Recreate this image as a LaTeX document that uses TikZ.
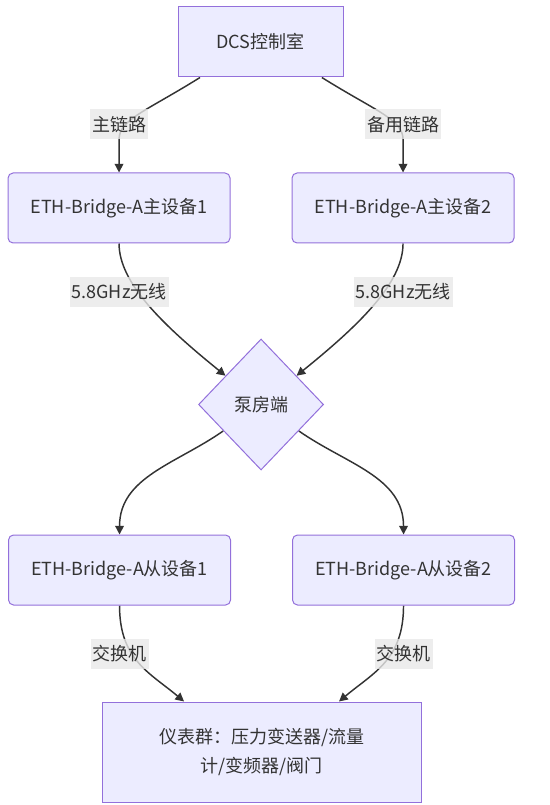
\documentclass[tikz,border=0pt]{standalone}
\usepackage{fontspec}
\setmainfont{Noto Sans CJK SC}
\usetikzlibrary{arrows.meta, positioning, calc, backgrounds, shapes.geometric}
\definecolor{nodefill}{HTML}{ECECFF}
\definecolor{nodeline}{HTML}{9370DB}
\definecolor{edgeline}{HTML}{333333}
\definecolor{labelfill}{HTML}{E8E8E8}
\definecolor{textgray}{HTML}{333333}

\begin{document}
\begin{tikzpicture}[
  node distance=71.25pt and 45.75pt,
  block/.style={
    rectangle, draw=nodeline, fill=nodefill, line width=0.75pt,
    minimum height=52.5pt, inner sep=0pt, align=center,
    text=textgray, font=\fontsize{13.5pt}{22pt}\selectfont
  },
  devblock/.style={block, rounded corners=3.75pt, minimum width=166.5pt},
  pumpnode/.style={block, diamond, minimum width=93.75pt, minimum height=98.25pt},
  arrow/.style={-{Triangle[length=6.5pt, width=6.5pt]}, line width=1.1pt, draw=edgeline},
  linklabel/.style={fill=labelfill, fill opacity=0.8, text opacity=1, text=textgray,
    font=\fontsize{13.5pt}{15pt}\selectfont, inner xsep=1.5pt, inner ysep=0pt,
    minimum height=22.5pt},
]
\useasboundingbox (-195.4pt,31.5pt) rectangle (216.4pt,-572.25pt);

% ---- control room and master devices ----
\node[block, minimum width=123.75pt] (dcs) at (0,0) {DCS控制室};
\node[devblock, below=of dcs, xshift=-106.125pt] (m1) {ETH-Bridge-A主设备1};
\node[devblock, right=of m1] (m2) {ETH-Bridge-A主设备2};

% ---- pump house ----
\coordinate (mtop) at ($(m1.south)!0.5!(m2.south)$);
\node[pumpnode, below=of mtop] (pump) {泵房端};

% ---- slave devices and instruments ----
\node[devblock, below=48pt of pump, xshift=-106.125pt] (s1) {ETH-Bridge-A从设备1};
\node[devblock, right=of s1] (s2) {ETH-Bridge-A从设备2};
\coordinate (stop) at ($(s1.south)!0.5!(s2.south)$);
\node[block, below=72pt of stop, minimum width=239.25pt, minimum height=75pt] (inst)
  {仪表群：压力变送器/流量\\计/变频器/阀门};

% Link labels
\node[linklabel, above=24.75pt of m1] (lmain) {主链路};
\node[linklabel, above=24.75pt of m2] (lbackup) {备用链路};
\node[linklabel, below=24.75pt of m1] (lwl1) {5.8GHz无线};
\node[linklabel, below=24.75pt of m2] (lwl2) {5.8GHz无线};
\node[linklabel, below=24.75pt of s1] (lsw1) {交换机};
\node[linklabel, below=24.75pt of s2] (lsw2) {交换机};

% Arrows (under the labels)
\begin{scope}[on background layer]
\draw[arrow] ([xshift=-45.4pt]dcs.south)
  to[out=-148, in=90, out looseness=1.6, in looseness=0.5] (lmain.south) -- (m1);
\draw[arrow] ([xshift=46pt]dcs.south)
  to[out=-32, in=90, out looseness=1.6, in looseness=0.5] (lbackup.south) -- (m2);
\draw[arrow] (m1.south) to[out=-90, in=141, out looseness=0.6, in looseness=1.2] (pump);
\draw[arrow] (m2.south) to[out=-90, in=39, out looseness=0.6, in looseness=1.2] (pump);
\draw[arrow] (pump) to[out=-145, in=90] (s1);
\draw[arrow] (pump) to[out=-35, in=90] (s2);
\draw[arrow] (s1.south) to[out=-90, in=140, out looseness=1.2] ([xshift=-58.1pt]inst.north);
\draw[arrow] (s2.south) to[out=-90, in=40, out looseness=1.2] ([xshift=58.1pt]inst.north);
\end{scope}

\end{tikzpicture}
\end{document}
